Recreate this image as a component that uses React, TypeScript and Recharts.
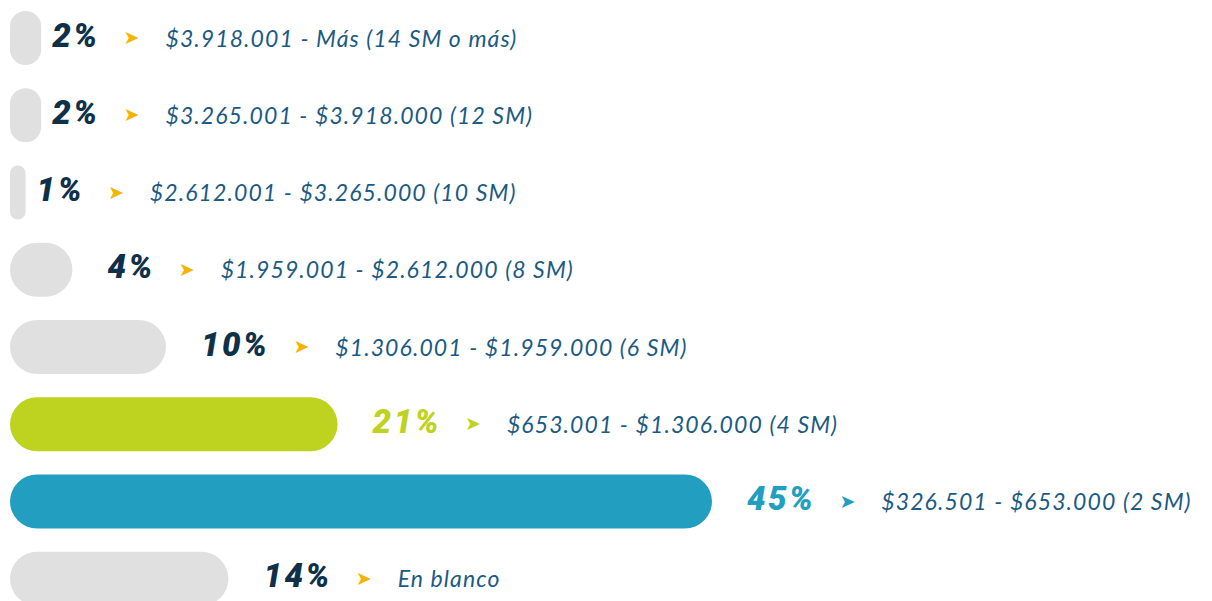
import { BarChart, Bar, XAxis, YAxis, Cell, LabelList } from "recharts";

const ranges = [
  "$3.918.001 - Más (14 SM o más)",
  "$3.265.001 - $3.918.000 (12 SM)",
  "$2.612.001 - $3.265.000 (10 SM)",
  "$1.959.001 - $2.612.000 (8 SM)",
  "$1.306.001 - $1.959.000 (6 SM)",
  "$653.001 - $1.306.000 (4 SM)",
  "$326.501 - $653.000 (2 SM)",
  "En blanco",
];
const shares = [2, 2, 1, 4, 10, 21, 45, 14];

const GREY = "#e0e0e0";
const NAVY = "#0e3049";
const TEXT = "#1b5a84";
const GOLD = "#f5b400";
// highlighted ranges keep their own colour for bar, percent and arrow
const accent: Record<string, string> = {
  "$653.001 - $1.306.000 (4 SM)": "#bed220",
  "$326.501 - $653.000 (2 SM)": "#229fc0",
};

const rows = ranges.map((r, i) => ({ range: r, pct: shares[i] }));

function RowLabel(props: any) {
  const { x, y, width, height, index } = props;
  const range = ranges[index];
  const col = accent[range];
  const gap = width < height ? 11 : 35;
  return (
    <text x={x + width + gap} y={y + height / 2 + 8.5}>
      <tspan fontFamily="Roboto, sans-serif" fontWeight={900} fontStyle="italic" fontSize={33} letterSpacing={2.5} fill={col ?? NAVY}>
        {shares[index]}%
      </tspan>
      <tspan dx={24} dy={-2.5} fontFamily="DejaVu Sans" fontSize={19} fill={col ?? GOLD}>➤</tspan>
      <tspan dx={26} dy={2.5} fontFamily="Lato, sans-serif" fontStyle="italic" fontSize={23} letterSpacing={1.1} fill={TEXT}>
        {range}
      </tspan>
    </text>
  );
}

export default function App() {
  return (
    <div style={{ position: "absolute", left: 0, top: -1, width: 1212, height: 618 }}>
      <BarChart
        width={1212}
        height={618}
        data={rows}
        layout="vertical"
        margin={{ top: 0, right: 422, bottom: 0, left: 10 }}
      >
        <XAxis type="number" domain={[0, 50]} hide />
        <YAxis type="category" dataKey="range" hide width={0} />
        <Bar dataKey="pct" barSize={54} radius={27} isAnimationActive={false}>
          {rows.map((r) => (
            <Cell key={r.range} fill={accent[r.range] ?? GREY} />
          ))}
          <LabelList dataKey="pct" content={<RowLabel />} />
        </Bar>
      </BarChart>
    </div>
  );
}
